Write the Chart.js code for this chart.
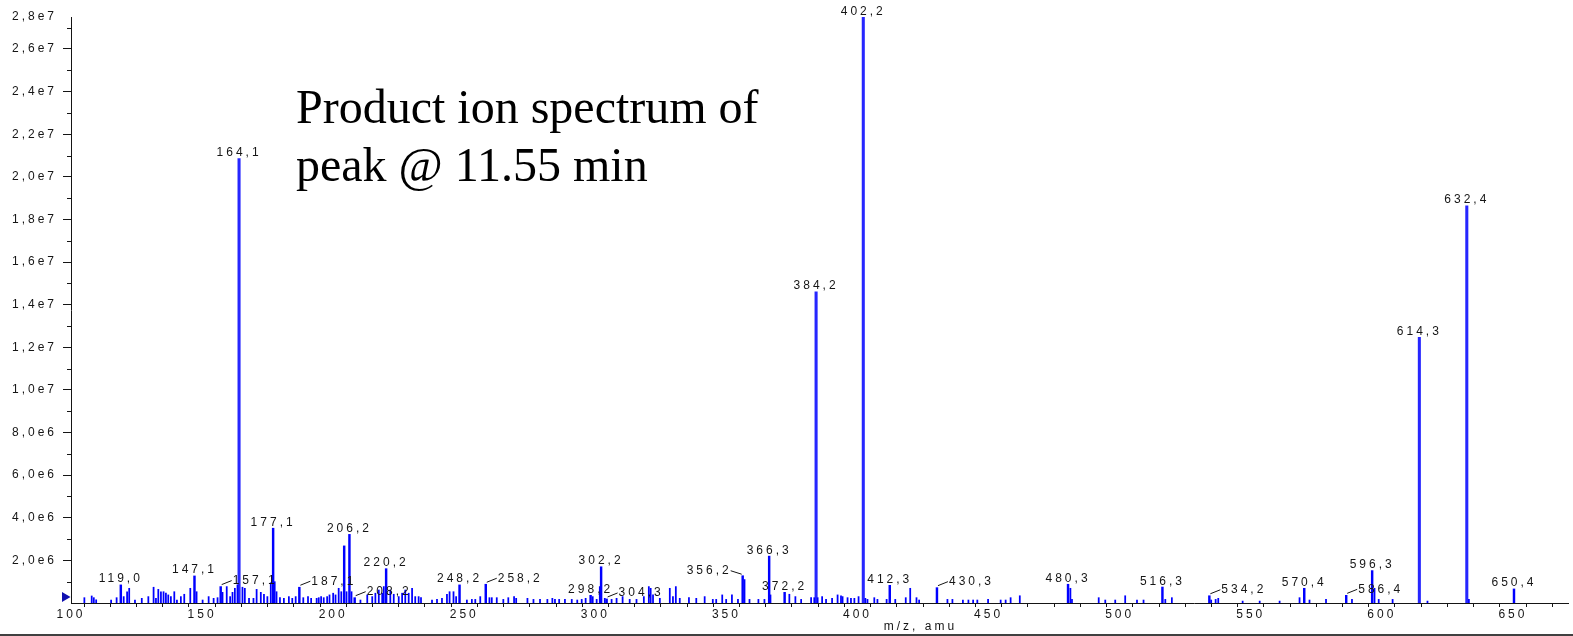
<!DOCTYPE html>
<html>
<head>
<meta charset="utf-8">
<script src="https://cdn.jsdelivr.net/npm/chart.js@4/dist/chart.umd.min.js"></script>
<style>
html,body{margin:0;padding:0;background:#fff;overflow:hidden}
#wrap{position:relative;width:1573px;height:636px}
#note{position:absolute;left:296px;top:78px;font-family:"Liberation Serif","DejaVu Serif",serif;font-size:48px;line-height:58px;color:#000;white-space:nowrap}
</style>
</head>
<body>
<div id="wrap">
<canvas id="c" width="1573" height="636"></canvas>
<div id="note">Product ion spectrum of<br>peak @ 11.55 min</div>
</div>
<script>
// ---- data (intensity in units of 1e6 counts) ----
const minorMz = [105.1,107.9,108.7,109.6,115.3,117.4,120.1,121.4,122.2,124.4,127.0,129.5,131.5,132.4,133.3,134.3,135.3,136.2,137.1,138.1,139.4,140.4,141.9,143.2,145.5,147.9,150.2,152.5,154.4,155.9,157.8,159.4,160.7,161.6,162.5,163.5,165.4,166.3,167.9,169.6,170.8,172.4,173.6,174.9,176.2,177.7,178.4,179.7,181.2,183.1,184.4,185.7,188.6,190.4,191.6,193.7,194.5,195.4,196.4,197.7,198.6,200.0,200.9,202.1,203.1,205.1,207.0,210.4,213.0,214.9,216.1,217.4,218.7,219.3,221.8,223.1,225.0,226.3,227.5,228.8,230.1,231.3,232.6,233.5,237.7,239.6,241.5,243.4,244.4,245.9,246.9,251.0,252.9,254.2,256.1,259.6,260.5,262.4,264.9,266.8,269.0,269.8,274.1,276.4,278.9,281.7,283.6,284.6,286.2,288.4,291.0,293.1,294.8,296.3,299.0,300.5,301.7,303.6,306.2,308.1,310.4,313.1,315.7,318.5,320.4,321.1,322.0,324.6,328.4,329.6,330.7,332.2,335.7,338.5,341.7,344.8,346.1,348.4,349.9,352.1,354.4,356.9,358.8,362.2,364.5,366.8,374.0,376.3,378.5,382.3,383.5,384.8,386.5,388.0,390.3,392.4,393.7,394.3,396.2,397.5,398.8,400.4,403.0,403.8,406.4,407.6,411.1,414.4,418.4,420.1,422.5,423.5,434.3,436.2,440.2,442.3,444.1,445.7,449.8,454.6,456.5,458.4,461.9,481.2,481.8,492.0,494.5,498.3,502.1,506.6,509.1,517.4,519.9,534.9,536.6,537.6,546.9,553.4,561.0,568.6,572.4,578.7,588.6,597.2,598.8,604.1,617.4,633.2];
const minorInt = [0.25,0.33,0.25,0.15,0.14,0.25,0.30,0.53,0.69,0.14,0.22,0.30,0.74,0.22,0.64,0.53,0.53,0.46,0.38,0.30,0.53,0.14,0.30,0.41,0.69,0.53,0.14,0.30,0.22,0.25,0.50,0.77,0.30,0.50,0.69,0.85,0.74,0.69,0.22,0.22,0.64,0.50,0.41,0.30,0.95,1.00,0.53,0.25,0.22,0.30,0.22,0.30,0.25,0.30,0.22,0.22,0.25,0.30,0.25,0.30,0.38,0.46,0.38,0.69,0.53,0.53,0.53,0.14,0.38,0.30,0.46,0.61,0.46,0.77,0.61,0.41,0.30,0.46,0.61,0.46,0.69,0.30,0.30,0.25,0.14,0.17,0.22,0.41,0.53,0.53,0.30,0.14,0.17,0.17,0.30,0.25,0.25,0.25,0.17,0.25,0.30,0.22,0.22,0.17,0.17,0.17,0.22,0.17,0.17,0.17,0.17,0.14,0.17,0.22,0.30,0.17,0.77,0.22,0.17,0.22,0.30,0.17,0.17,0.30,0.77,0.69,0.38,0.22,0.69,0.30,0.77,0.22,0.25,0.22,0.30,0.17,0.17,0.38,0.17,0.38,0.17,1.10,0.17,0.17,0.17,0.38,0.41,0.30,0.17,0.25,0.25,0.25,0.30,0.17,0.22,0.38,0.34,0.30,0.25,0.22,0.22,0.30,0.22,0.17,0.25,0.17,0.17,0.17,0.25,0.69,0.25,0.14,0.17,0.17,0.14,0.14,0.14,0.14,0.17,0.14,0.14,0.25,0.34,0.69,0.17,0.25,0.14,0.14,0.34,0.14,0.14,0.17,0.25,0.14,0.17,0.22,0.09,0.09,0.09,0.25,0.14,0.17,0.17,0.69,0.17,0.17,0.09,0.17];

const mediumMz  = [204.2];
const mediumInt = [2.68];

const labeledMz   = [119.0,147.1,157.1,164.1,177.1,187.1,206.2,208.2,220.2,248.2,258.2,298.2,302.2,304.3,356.2,366.3,372.2,384.2,402.2,412.3,430.3,480.3,516.3,534.2,570.4,586.4,596.3,614.3,632.4,650.4];
const labeledInt  = [0.85,1.27,0.77,20.86,3.51,0.74,3.22,0.25,1.61,0.85,0.88,0.36,1.70,0.19,1.28,2.20,0.50,14.6,27.5,0.83,0.72,0.88,0.75,0.34,0.69,0.36,1.52,12.47,18.64,0.66];
const labeledText = ['119,0','147,1','157,1','164,1','177,1','187,1','206,2','208,2','220,2','248,2','258,2','298,2','302,2','304,3','356,2','366,3','372,2','384,2','402,2','412,3','430,3','480,3','516,3','534,2','570,4','586,4','596,3','614,3','632,4','650,4'];

const xTickValues = [100,110,120,130,140,150,160,170,180,190,200,210,220,230,240,250,260,270,280,290,300,310,320,330,340,350,360,370,380,390,400,410,420,430,440,450,460,470,480,490,500,510,520,530,540,550,560,570,580,590,600,610,620,630,640,650,660,670];
const yTickValues = [2,4,6,8,10,12,14,16,18,20,22,24,26,27.5];
const yTickLabels = ['2,0e6','4,0e6','6,0e6','8,0e6','1,0e7','1,2e7','1,4e7','1,6e7','1,8e7','2,0e7','2,2e7','2,4e7','2,6e7','2,8e7'];
const yMinorTicks = [1,3,5,7,9,11,13,15,17,19,21,23,25,27];
const X_MIN = 100, X_MAX = 671, Y_MAX = 27.5;
const xTitle = 'm/z, amu';

// ---- layout of labels (style, not data) ----
const leaderRight = ['157,1','187,1','208,2','258,2','304,3','430,3','534,2','586,4'];
const leaderLeft  = ['356,2'];

const FONT = '12px "Liberation Sans", Arial, sans-serif';

const pts = (xs, ys) => xs.map((x, i) => ({x: x, y: ys[i]}));
const majorIdx = labeledInt.map((v, i) => i).filter(i => labeledInt[i] > 10);
const midIdx = labeledInt.map((v, i) => i).filter(i => labeledInt[i] <= 10);

const decor = {
  id: 'decor',
  beforeDraw(chart) {
    chart.ctx.letterSpacing = '3px';
  },
  afterDraw(chart) {
    const ctx = chart.ctx, xs = chart.scales.x, ys = chart.scales.y, ca = chart.chartArea;
    ctx.save();
    ctx.letterSpacing = '3px';
    ctx.font = FONT;
    ctx.fillStyle = '#151515';
    ctx.strokeStyle = '#151515';
    ctx.lineWidth = 1;
    // minor y ticks
    yMinorTicks.forEach(v => {
      const y = Math.round(ys.getPixelForValue(v)) + 0.5;
      ctx.beginPath(); ctx.moveTo(ca.left - 4, y); ctx.lineTo(ca.left, y); ctx.stroke();
    });
    // peak labels
    labeledText.forEach((t, i) => {
      const px = xs.getPixelForValue(labeledMz[i]);
      const py = ys.getPixelForValue(labeledInt[i]);
      ctx.textBaseline = 'alphabetic';
      if (leaderRight.includes(t)) {
        ctx.beginPath(); ctx.moveTo(px + 1, py - 2); ctx.lineTo(px + 11, py - 6); ctx.stroke();
        ctx.textAlign = 'left';
        ctx.fillText(t, px + 12, py - 2.5);
      } else if (leaderLeft.includes(t)) {
        ctx.beginPath(); ctx.moveTo(px - 1, py - 1.5); ctx.lineTo(px - 12, py - 5); ctx.stroke();
        ctx.textAlign = 'right';
        ctx.fillText(t, px - 11, py - 1.5);
      } else {
        ctx.textAlign = 'center';
        ctx.fillText(t, px, py - 2.5);
      }
    });
    // x axis title
    ctx.textAlign = 'center';
    ctx.textBaseline = 'middle';
    ctx.fillText(xTitle, xs.getPixelForValue(424), 627);
    // zero marker triangle
    const y0 = ys.getPixelForValue(0);
    ctx.fillStyle = '#1010b0';
    ctx.beginPath();
    ctx.moveTo(ca.left - 9, y0 - 11);
    ctx.lineTo(ca.left - 9, y0 - 1);
    ctx.lineTo(ca.left - 0.5, y0 - 6);
    ctx.closePath(); ctx.fill();
    // bottom frame line
    ctx.fillStyle = '#404040';
    ctx.fillRect(0, 634, chart.width, 2);
    ctx.restore();
  }
};

new Chart(document.getElementById('c'), {
  type: 'bar',
  data: {
    datasets: [
      {label: 'minor', data: pts(minorMz, minorInt), backgroundColor: '#0000ff', barThickness: 1.1, grouped: false},
      {label: 'medium', data: pts(mediumMz.concat(midIdx.map(i => labeledMz[i])), mediumInt.concat(midIdx.map(i => labeledInt[i]))), backgroundColor: '#0000ff', barThickness: 1.8, grouped: false},
      {label: 'major', data: pts(majorIdx.map(i => labeledMz[i]), majorIdx.map(i => labeledInt[i])), backgroundColor: '#2626ff', barThickness: 2.4, grouped: false}
    ]
  },
  options: {
    responsive: false,
    animation: false,
    devicePixelRatio: 1,
    layout: {padding: {top: 17, right: 5, left: 1, bottom: 0}},
    plugins: {legend: {display: false}, tooltip: {enabled: false}},
    scales: {
      x: {
        type: 'linear', min: X_MIN, max: X_MAX, offset: false,
        afterBuildTicks(s) { s.ticks = xTickValues.map(v => ({value: v})); },
        afterFit(s) { s.height = 33; },
        grid: {display: true, drawOnChartArea: false, drawTicks: true, tickLength: 4, tickColor: '#151515', tickWidth: 1},
        border: {display: true, color: '#151515', width: 1},
        ticks: {autoSkip: false, maxRotation: 0, minRotation: 0, padding: 0, color: '#151515',
          font: {size: 12, family: '"Liberation Sans", Arial, sans-serif'},
          callback: v => (v % 50 === 0 ? String(v) : '')}
      },
      y: {
        type: 'linear', min: 0, max: Y_MAX,
        afterBuildTicks(s) { s.ticks = yTickValues.map(v => ({value: v})); },
        afterFit(s) { s.width = 70; },
        grid: {display: true, drawOnChartArea: false, drawTicks: true, tickLength: 8, tickWidth: 1,
          tickColor: c => (c.tick && c.tick.value === Y_MAX ? 'rgba(0,0,0,0)' : '#151515')},
        border: {display: true, color: '#151515', width: 1},
        ticks: {padding: 6, color: '#151515', font: {size: 12, family: '"Liberation Sans", Arial, sans-serif'},
          callback: (v, i) => yTickLabels[yTickValues.indexOf(v)] || ''}
      }
    }
  },
  plugins: [decor]
});
</script>
</body>
</html>
